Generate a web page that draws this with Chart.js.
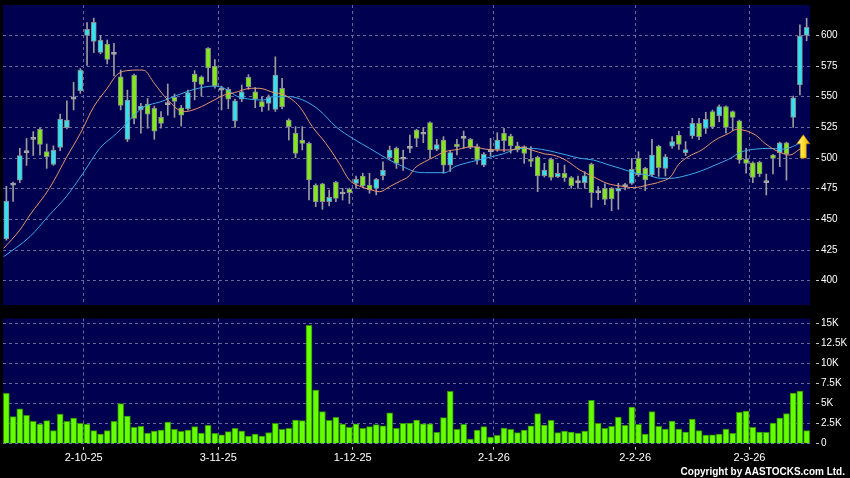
<!DOCTYPE html>
<html><head><meta charset="utf-8">
<script src="https://cdn.jsdelivr.net/npm/chart.js@4.4.1/dist/chart.umd.min.js"></script>
<style>
html,body{margin:0;padding:0;background:#000;}
#wrap{position:relative;width:850px;height:478px;background:#000;overflow:hidden}
canvas{position:absolute;left:0;background:#000}
#c1{top:0}
#c2{top:310px}
#copy{position:absolute;right:5px;top:466px;line-height:12px;color:#fff;font:bold 10px "Liberation Sans",Arial,sans-serif;white-space:nowrap}
</style></head><body>
<div id="wrap">
<canvas id="c1" width="850" height="310"></canvas>
<canvas id="c2" width="850" height="168"></canvas>
<div id="copy">Copyright by AASTOCKS.com Ltd.</div>
</div>
<script>
// ---- data ----
const open  = [434,478,482,504.4,515.3,523.4,505.2,494.9,508.7,524.7,548.1,554.9,600,595.2,586.2,593,584.5,566.3,515.3,567.4,
539.2,544,540.6,533.2,543.6,549.5,541,540.3,568.5,566.3,589.4,575,555.4,556,530.2,548,565.8,554,546,544.6,
539.7,556.9,531,520.1,514.7,512,478,478.9,464.4,480.2,470.7,474.5,479.4,485.4,478,475.3,485.6,500.3,508,499,
507.9,522.8,519.4,528.9,507.1,514.7,494.3,511.5,516.1,515.3,509.3,494.3,505.2,507.1,520.1,517.9,510,509.3,499,500.6,
485.6,499,484.9,487.6,484,480,480,494.9,471.8,475.3,475.3,473.1,476.7,479.4,499.8,491.6,486.2,509.8,491.6,509.8,
518.8,504.4,518,528.3,524.2,537.8,534.3,541.9,537.8,530.4,499,496.2,496.5,480,502.4,504.4,512.5,533.2,559.6,600];
const high  = [477,480.5,508,516,521.6,524.5,511.5,510,535.9,546.7,561.7,573,610.4,614,600,596.3,593.5,571.8,555.4,568.5,
544.6,548.6,542.4,537.8,560.4,552.2,543,555.5,571.2,567,590,580.4,558.7,557.5,548,559.5,568,557.5,550,551.4,
582.6,565,532,525.6,525.6,513,479,479.5,474,481,475.3,475.5,485.4,487.6,487.6,483.5,497,509.8,509,506.6,
518.8,523.5,525,529.5,515.3,517.5,505.5,515.3,522,516,511.5,504.5,516,520.7,524.2,519.5,513,510,509.3,501.5,
495.7,500,495.7,494.3,485,485.4,488.9,496,476.7,478.9,476,479.4,479.4,499.8,505.2,492.5,515.3,510.5,503,517.5,
522,513.4,532.4,532.4,537.3,539.2,543.3,542.5,538.5,531,508,497,497.5,487,503,513,513,550.5,608.6,614];
const low   = [433,464.6,480,494,502,502.5,491.6,494,506,523.7,539.2,552.8,575.5,586,585,576.7,567,539.2,513.4,527.8,
520.2,524.3,515.3,524.3,535,533.2,526.1,539,547.4,550.6,562.3,557,539.2,540.3,525,546,556,541,538,539,
538,540,514.7,500.3,506.6,465.8,460.4,458.2,460.9,464.4,465.8,463,475.3,476,471.3,470,482.1,499,491.6,490,
504.4,509.3,512.5,500.3,506,487.6,489,502.5,507.9,507.5,495,493,501.6,505.5,505.2,504,505,495.7,492.9,472.6,
484.5,482,484,481,475.3,475.3,475.3,459.8,466,462,457,458.2,474,478.5,485,473.4,485,485,485.4,508,
507,502,516,515,520,524,529.5,520.2,522.5,495.7,487.6,480,484.9,469.9,487,493,482,525,551.5,595.7];
const close = [465,478,502,504.4,515.3,511.2,501.2,506.6,531.8,531,548.1,571.8,605,610.7,596,580.5,584.5,543,547.3,532.4,
542.4,535.7,522,528.3,543.6,546.2,535,553.3,562,560.1,573.6,558.7,555.4,548,546.7,554,558.2,548,542,549.5,
567.6,542,525.6,503.8,512,482.1,464.4,464.4,468,467.2,470.7,471.8,482.6,477.2,474,482.6,490.2,506.6,495.7,499,
507.9,516,519.4,506.6,510.9,494.3,504.4,509.3,516.1,508.7,498.4,503,505.2,514.7,514.2,510,506.6,503.8,497.3,485.4,
490.2,484.3,487.6,484,477.5,480,485.6,471.8,471.8,466.3,466.6,475.3,476.7,490.8,486.2,482.1,502.4,492.1,501.1,513.4,
511.2,507,528.3,517.5,531.6,525.6,541.9,525,533.2,498.4,495.7,484.3,487,480,499.8,512.5,503.3,549.2,599.5,606.6];
const volume = [6270,3370,4360,3530,2780,2450,2870,1620,3700,2780,3200,2530,2450,1620,1200,1620,2780,4990,3450,2040,
2160,1330,1580,1700,2700,1790,1540,1700,2120,1330,2280,1290,1120,1500,1910,1580,960,1200,960,1370,
2530,1790,1910,2950,2870,14750,6690,3990,2910,3280,2450,2040,2490,1910,2120,2370,2240,3860,1910,2530,
2580,2950,2490,2490,1410,3240,6520,1790,2410,580,1700,2120,830,1040,1950,1790,1370,1700,2240,3740,
2330,2910,1370,1580,1450,1330,1580,5400,2530,1910,2160,3320,2280,4570,2410,1200,3990,2160,1830,2830,
1830,1450,3070,1620,1080,1120,1200,1830,1290,3900,4070,2040,1450,1410,2580,3200,3740,6310,6560,1620];
// short moving average (orange) sampled along the picture: candle position, value
const maShortAt = [-0.4,2,3.5,6.4,9,11,13,15,16.4,17.8,19.8,20.5,22,24,26.4,28.4,30.9,32.4,33.9,36.4,37.6,39.8,41.1,43.6,45.5,47.5,49.5,51,52.5,54,55.5,57,58.4,59.9,60.7,62.2,63.7,65.2,67.2,69.2,71.2,73.1,75.1,76.6,78.1,80.1,81.3,83.3,85.3,87.3,89.3,91.3,93.3,95.3,97.3,98.8,99.9,101.4,103.4,105.4,107.4,108.6,111.4,112.8,114.8,116.5,117.8,118.5];
const maShort   = [426.4,441.3,453.6,475.3,501.1,520.1,541.9,556.9,567.7,571.2,571.8,571.5,560.9,547.3,537.8,540.5,547.3,551.4,553.3,556.9,556.9,553.3,552,541.9,525.6,512,495.7,482.1,477.2,474.5,472.6,476.7,480.8,485.5,491.6,497,501.1,505.2,507.1,509.3,507.3,506.6,506.6,508.7,506.6,503.3,502.5,497.9,490.2,484.8,479.4,477.2,475.9,478,480.8,484.8,494.5,501.1,506.6,514.7,520.1,523.4,518.8,512,505.2,502.5,506.6,509.3];
// long moving average (blue)
const maLongAt = [-0.4,3.5,6.4,8.9,11.4,13.9,16.4,18.3,19.8,20.5,23,25.5,27.9,30.9,32.4,34.4,36.4,38.3,39.5,42,44.1,46.5,49,51.5,54,56.5,59,60.7,62.2,65.2,66.7,68.2,70.2,72.2,74.1,76.1,78.1,80.1,81.3,83.3,85.3,87.3,89.3,91.3,93.3,95.3,97.3,98.8,101.4,103.4,105.4,107.4,109.4,111.4,113.4,115.4,116.9,118.4];
const maLong   = [419.6,435.9,453.6,468.5,487.6,508,520.1,531,539.2,541.9,546,551.4,556,558.7,556.9,550.1,547.9,547.3,550,550.1,547.3,539.2,525.6,516,508,499.8,493,489,488.1,488.1,493,495.7,498.4,501.1,503.8,507.9,507.9,506.6,505.2,502.5,499.8,498.4,494.9,491.6,488.1,486.2,483.5,483.5,486.2,489.7,494.3,499,505.2,507.3,507.9,507.3,509.3,513.4];
const priceTicks  = [400,425,450,475,500,525,550,575,600];
const volumeTicks = [0,2500,5000,7500,10000,12500,15000];
const dateLabels  = ['2-10-25','3-11-25','1-12-25','2-1-26','2-2-26','2-3-26'];
const dateIndex   = [12,32,52,73,94,111];   // candle index of the labelled trading day
const signalArrow = [118.5, 519, 500];      // candle position, tip price, base price

// ---- styles ----
const NAVY = '#000050', GRID = '#67679c', CYAN = '#35e1f1', GREEN = '#82e81c', DOJI = '#a8a8a8';
Chart.defaults.font.family = '"Liberation Sans", Arial, sans-serif';
Chart.defaults.color = '#ffffff';

const idx = open.map((_, i) => i);
const bodyColor = idx.map(i => close[i] > open[i] ? CYAN : (close[i] < open[i] ? GREEN : DOJI));

const panelBg = {
  id: 'panelBg',
  beforeDraw(chart) {
    const a = chart.chartArea, ctx = chart.ctx;
    ctx.save(); ctx.fillStyle = NAVY;
    ctx.fillRect(a.left, a.top, a.right - a.left, a.bottom - a.top);
    ctx.restore();
  }
};
const arrowPlugin = {
  id: 'arrowPlugin',
  afterDatasetsDraw(chart) {
    const xs = chart.scales.x, ys = chart.scales.y, ctx = chart.ctx;
    const x = xs.getPixelForValue(signalArrow[0]);
    const yt = ys.getPixelForValue(signalArrow[1]);
    const yb = ys.getPixelForValue(signalArrow[2]);
    const hw = 6.5, sw = 3, hh = 9;
    const g = ctx.createLinearGradient(x - hw, 0, x + hw, 0);
    g.addColorStop(0, '#fff8a0'); g.addColorStop(0.5, '#ffe030'); g.addColorStop(1, '#f0a800');
    ctx.save();
    ctx.beginPath();
    ctx.moveTo(x, yt); ctx.lineTo(x + hw, yt + hh); ctx.lineTo(x + sw, yt + hh);
    ctx.lineTo(x + sw, yb); ctx.lineTo(x - sw, yb); ctx.lineTo(x - sw, yt + hh);
    ctx.lineTo(x - hw, yt + hh); ctx.closePath();
    ctx.fillStyle = g; ctx.fill();
    ctx.strokeStyle = '#c88a00'; ctx.lineWidth = 0.6; ctx.stroke();
    ctx.restore();
  }
};

const xScaleBase = (showLabels) => ({
  type: 'linear', min: -0.5, max: idx.length - 0.5, offset: false, bounds: 'data',
  afterBuildTicks: s => { s.ticks = dateIndex.map(v => ({value: v - 0.5})); },
  grid: { color: GRID, lineWidth: 1, offset: false, drawTicks: showLabels,
          tickLength: 6, tickColor: '#c8c8c8', tickBorderDash: [0, 3, 3, 20] },
  border: { display: false, dash: [3, 3] },
  ticks: { display: showLabels, autoSkip: false, maxRotation: 0, padding: 2,
           color: '#ffffff', font: { size: 11 },
           callback: (v, i) => dateLabels[i] }
});
const yScaleBase = (ticksArr, min, max, fmt) => ({
  type: 'linear', position: 'right', min: min, max: max, bounds: 'data',
  afterBuildTicks: s => { s.ticks = ticksArr.map(v => ({value: v})); },
  afterFit: s => { s.width = 40; s.paddingTop = 0; s.paddingBottom = 0; },
  grid: { color: GRID, lineWidth: 1, drawTicks: true, tickLength: 9,
          tickColor: '#c8c8c8', tickBorderDash: [0, 6, 3, 40] },
  border: { display: false, dash: [3, 3] },
  ticks: { padding: 2, color: '#ffffff', font: { size: 10 }, callback: fmt }
});

// ---- price chart ----
const xPrice = xScaleBase(false);
xPrice.afterFit = s => { s.height = 0; s.paddingLeft = 0; s.paddingRight = 0; };
new Chart(document.getElementById('c1'), {
  type: 'bar',
  data: {
    datasets: [
      { type: 'line', data: maShortAt.map((x, k) => ({x: x, y: maShort[k]})),
        borderColor: '#e8966a', borderWidth: 1, pointRadius: 0, cubicInterpolationMode: 'monotone', order: 1 },
      { type: 'line', data: maLongAt.map((x, k) => ({x: x, y: maLong[k]})),
        borderColor: '#3aaae8', borderWidth: 1, pointRadius: 0, cubicInterpolationMode: 'monotone', order: 1 },
      { data: idx.map(i => ({x: i, y: [open[i], close[i]]})),
        backgroundColor: bodyColor, borderColor: idx.map(i => bodyColor[i] === DOJI ? DOJI : '#8c8c8c'),
        borderWidth: 1, borderSkipped: false, barThickness: 5, minBarLength: 2, grouped: false, order: 2 },
      { data: idx.map(i => ({x: i, y: [low[i], high[i]]})),
        backgroundColor: '#9c9c9c', borderWidth: 0, barThickness: 1, grouped: false, order: 3 }
    ]
  },
  options: {
    responsive: false, animation: false, devicePixelRatio: 1,
    layout: { padding: { left: 3, top: 5, right: 0, bottom: 5 } },
    plugins: { legend: { display: false }, tooltip: { enabled: false } },
    scales: {
      x: xPrice,
      y: yScaleBase(priceTicks, 380.2, 624.8, v => String(v))
    }
  },
  plugins: [panelBg, arrowPlugin]
});

// ---- volume chart ----
const xVol = xScaleBase(true);
xVol.afterFit = s => { s.height = 34.3; s.paddingLeft = 0; s.paddingRight = 0; };
new Chart(document.getElementById('c2'), {
  type: 'bar',
  data: {
    datasets: [
      { data: idx.map(i => ({x: i, y: volume[i]})),
        backgroundColor: '#66ff00', borderColor: '#2f8f00', borderWidth: 1,
        barThickness: 6, grouped: false }
    ]
  },
  options: {
    responsive: false, animation: false, devicePixelRatio: 1,
    layout: { padding: { left: 3, top: 8.5, right: 0, bottom: 0 } },
    plugins: { legend: { display: false }, tooltip: { enabled: false } },
    scales: {
      x: xVol,
      y: yScaleBase(volumeTicks, 0, 15600, v => v === 0 ? '0' : (v / 1000) + 'K')
    }
  },
  plugins: [panelBg]
});
</script>
</body></html>
